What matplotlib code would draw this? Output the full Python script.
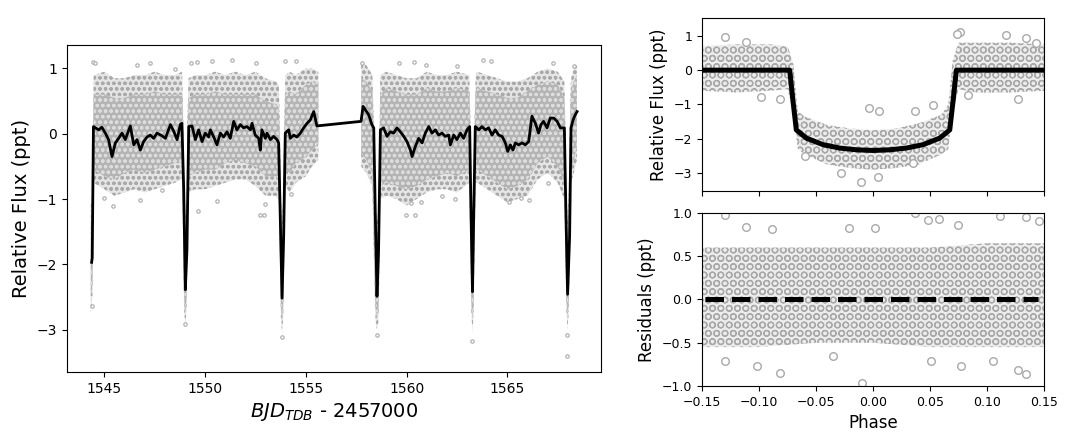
import numpy as np
import matplotlib
matplotlib.use("Agg")
import matplotlib.pyplot as plt

plt.rcParams['hatch.linewidth'] = 0.9

# ---- light curve: detrending model (black line)
trend_t = [1544.37, 1544.40, 1544.46, 1544.72, 1544.88, 1545.05, 1545.21, 1545.38,
           1545.55, 1545.71, 1545.88, 1546.04, 1546.29, 1546.46, 1546.62, 1546.79,
           1546.95, 1547.12, 1547.28, 1547.45, 1547.61, 1547.86, 1548.03, 1548.28,
           1548.44, 1548.61, 1548.77, 1548.85, 1548.94, 1549.02, 1549.10, 1549.19,
           1549.35, 1549.52, 1549.68, 1549.85, 1550.01, 1550.18, 1550.26, 1550.43,
           1550.59, 1550.76, 1550.92, 1551.09, 1551.25, 1551.42, 1551.58, 1551.75,
           1551.91, 1552.08, 1552.25, 1552.33, 1552.49, 1552.66, 1552.74, 1552.82,
           1552.99, 1553.07, 1553.24, 1553.40, 1553.57, 1553.65, 1553.73, 1553.82,
           1553.90, 1553.98, 1554.15, 1554.23, 1554.40, 1554.56, 1554.73, 1554.89,
           1555.06, 1555.22, 1555.39, 1555.55,
           1557.74, 1557.84, 1557.95, 1558.12, 1558.28, 1558.37, 1558.45, 1558.53,
           1558.61, 1558.70, 1558.86, 1559.03, 1559.19, 1559.36, 1559.52, 1559.69,
           1559.86, 1560.02, 1560.19, 1560.27, 1560.43, 1560.60, 1560.77, 1560.93,
           1561.10, 1561.26, 1561.43, 1561.59, 1561.76, 1561.92, 1562.09, 1562.17,
           1562.34, 1562.50, 1562.67, 1562.83, 1563.00, 1563.13, 1563.20, 1563.27,
           1563.33, 1563.41, 1563.58, 1563.74, 1563.91, 1564.07, 1564.24, 1564.40,
           1564.57, 1564.74, 1564.90, 1565.02, 1565.15, 1565.28, 1565.40, 1565.56,
           1565.73, 1565.89, 1566.06, 1566.22, 1566.39, 1566.55, 1566.67, 1566.80,
           1566.97, 1567.13, 1567.30, 1567.47, 1567.63, 1567.83, 1567.91, 1567.99,
           1568.09, 1568.16, 1568.26, 1568.37, 1568.46]
trend_f = [-1.97, -1.90, 0.11, 0.06, 0.10, 0.01, -0.09, -0.35,
           -0.14, -0.07, 0.01, -0.09, 0.12, -0.17, -0.09, -0.25,
           -0.12, -0.05, -0.02, -0.07, 0.01, -0.03, -0.07, 0.14,
           0.04, -0.09, 0.14, 0.16, -0.86, -2.39, -1.78, 0.11,
           0.12, -0.09, 0.06, -0.12, 0.01, -0.05, 0.06, -0.05,
           -0.17, 0.01, -0.05, 0.03, -0.07, 0.19, 0.06, 0.14,
           0.09, 0.11, 0.06, 0.16, -0.02, -0.07, -0.25, 0.06,
           -0.07, 0.01, -0.09, -0.04, -0.09, -0.14, -1.27, -2.52,
           -1.57, 0.01, 0.06, -0.07, -0.02, -0.05, 0.01, 0.09,
           0.16, 0.21, 0.34, 0.12,
           0.19, 0.42, 0.37, 0.29, 0.14, 0.09, -1.27, -2.49,
           -1.78, 0.06, 0.09, -0.04, 0.03, 0.01, 0.09, 0.03,
           -0.04, -0.12, -0.25, -0.35, -0.20, -0.07, -0.14, 0.01,
           0.11, 0.01, 0.06, -0.02, 0.01, -0.04, -0.02, -0.17,
           -0.02, -0.09, 0.01, -0.07, 0.06, 0.11, -1.27, -2.42,
           -1.27, 0.11, 0.06, 0.11, 0.06, 0.09, -0.02, 0.06,
           -0.02, -0.04, -0.14, -0.27, -0.17, -0.25, -0.14, -0.17,
           -0.14, -0.17, -0.12, 0.27, 0.16, 0.01, 0.14, 0.19,
           0.09, 0.24, 0.24, 0.19, 0.09, 0.09, -1.27, -2.46,
           -1.57, 0.09, 0.21, 0.29, 0.34]

# ---- light curve: extent of the cloud of data points, first orbit
orb1_t = [1544.33, 1544.41, 1544.47, 1545.0, 1545.5, 1546.0, 1546.5, 1547.0, 1547.5,
          1548.0, 1548.5, 1548.86, 1548.92, 1548.96, 1549.02, 1549.08, 1549.12, 1549.18,
          1549.5, 1550.0, 1550.5, 1551.0, 1551.5, 1552.0, 1552.5, 1553.0, 1553.5,
          1553.66, 1553.72, 1553.76, 1553.82, 1553.88, 1553.92, 1553.98, 1554.2, 1554.5,
          1555.0, 1555.3, 1555.62]
orb1_hi = [-1.1, -0.9, 0.9, 0.95, 0.85, 0.85, 0.9, 0.9, 0.95,
           0.9, 0.9, 0.95, 0.2, -1.0, -1.2, -1.0, 0.2, 0.85,
           0.9, 0.9, 0.95, 0.9, 0.95, 0.9, 0.95, 0.85, 0.8,
           0.75, 0.0, -1.0, -1.3, -1.0, 0.0, 0.9, 0.95, 0.9,
           1.0, 1.0, 0.95]
orb1_lo = [-2.75, -2.5, -0.75, -0.85, -0.95, -0.9, -0.85, -0.9, -0.85,
           -0.8, -0.75, -0.7, -1.8, -2.7, -2.95, -2.7, -1.8, -0.9,
           -0.85, -0.85, -0.8, -0.75, -0.7, -0.7, -0.8, -0.95, -0.95,
           -1.0, -2.0, -2.8, -3.05, -2.8, -2.0, -0.8, -0.9, -0.75,
           -0.65, -0.5, -0.4]
core1_hi = [-1.4, -1.2, 0.6, 0.6, 0.55, 0.55, 0.6, 0.6, 0.65,
            0.6, 0.6, 0.6, 0.0, -1.3, -1.5, -1.3, 0.0, 0.55,
            0.6, 0.6, 0.65, 0.6, 0.6, 0.6, 0.6, 0.5, 0.45,
            0.4, -0.3, -1.3, -1.6, -1.3, -0.2, 0.6, 0.65, 0.6,
            0.75, 0.8, 0.75]
core1_lo = [-2.5, -2.3, -0.55, -0.65, -0.7, -0.6, -0.55, -0.6, -0.55,
            -0.5, -0.45, -0.45, -1.6, -2.5, -2.75, -2.5, -1.6, -0.65,
            -0.6, -0.55, -0.55, -0.45, -0.4, -0.45, -0.5, -0.65, -0.65,
            -0.7, -1.8, -2.6, -2.85, -2.6, -1.8, -0.55, -0.6, -0.45,
            -0.35, -0.25, -0.15]

# ---- light curve: extent of the cloud of data points, second orbit
orb2_t = [1557.75, 1558.0, 1558.3, 1558.37, 1558.43, 1558.47, 1558.53, 1558.59, 1558.63,
          1558.69, 1559.0, 1559.5, 1560.0, 1560.5, 1561.0, 1561.5, 1562.0, 1562.5,
          1563.11, 1563.17, 1563.21, 1563.27, 1563.33, 1563.37, 1563.43, 1563.5, 1564.0,
          1564.5, 1565.0, 1565.5, 1566.0, 1566.5, 1567.0, 1567.5, 1567.83, 1567.89,
          1567.93, 1567.99, 1568.05, 1568.09, 1568.15, 1568.2, 1568.3, 1568.45]
orb2_hi = [1.1, 1.05, 0.9, 0.2, -1.0, -1.2, -1.3, -1.2, -1.0,
           0.9, 0.95, 0.9, 0.85, 0.85, 0.95, 0.9, 0.9, 0.95,
           0.9, 0.2, -1.0, -1.4, -1.0, 0.2, 0.9, 0.95, 0.9,
           0.85, 0.8, 0.8, 0.85, 0.95, 1.0, 0.95, 0.8, 0.0,
           -0.9, -1.3, -0.9, 0.0, 0.8, 0.9, 1.0, 1.05]
orb2_lo = [-0.5, -0.6, -0.8, -1.8, -2.6, -2.9, -3.0, -2.9, -2.6,
           -1.0, -0.95, -1.0, -1.1, -1.0, -0.9, -0.85, -0.85, -0.9,
           -0.75, -1.8, -2.7, -3.05, -2.7, -1.8, -0.75, -0.75, -0.85,
           -0.95, -1.05, -1.0, -0.95, -0.7, -0.6, -0.75, -1.0, -2.0,
           -2.7, -3.0, -2.7, -2.0, -0.8, -0.7, -0.6, -0.4]
core2_hi = [0.85, 0.8, 0.65, 0.0, -1.3, -1.5, -1.6, -1.5, -1.3,
            0.6, 0.7, 0.65, 0.6, 0.6, 0.7, 0.65, 0.65, 0.7,
            0.65, 0.0, -1.3, -1.7, -1.3, 0.0, 0.65, 0.7, 0.65,
            0.6, 0.55, 0.55, 0.65, 0.75, 0.8, 0.75, 0.55, -0.3,
            -1.3, -1.6, -1.3, -0.3, 0.55, 0.7, 0.8, 0.9]
core2_lo = [-0.3, -0.4, -0.6, -1.6, -2.4, -2.7, -2.8, -2.7, -2.4,
            -0.8, -0.75, -0.8, -0.85, -0.8, -0.7, -0.65, -0.6, -0.65,
            -0.55, -1.6, -2.5, -2.85, -2.5, -1.6, -0.55, -0.55, -0.65,
            -0.75, -0.85, -0.8, -0.7, -0.45, -0.35, -0.5, -0.75, -1.8,
            -2.5, -2.8, -2.5, -1.8, -0.55, -0.5, -0.4, -0.2]

# ---- light curve: isolated points outside the cloud
out_t = [1544.44, 1544.55, 1546.62, 1547.28, 1548.52, 1549.30, 1549.60, 1550.34,
         1551.34, 1552.54, 1553.95, 1554.53, 1545.43, 1544.97, 1546.79, 1547.86,
         1549.63, 1550.59, 1552.71, 1552.91, 1552.96, 1554.26, 1544.39, 1549.02,
         1553.82, 1558.53, 1563.25, 1567.96, 1567.98, 1557.79, 1559.61, 1560.38,
         1560.98, 1562.50, 1563.79, 1564.21, 1567.27, 1568.33, 1559.95, 1560.43,
         1560.22, 1560.72, 1561.76, 1562.42, 1565.07, 1565.68, 1566.09, 1567.00]
out_f = [1.10, 1.09, 1.06, 1.08, 0.99, 1.08, 1.10, 1.11,
         1.13, 1.09, 1.12, 1.11, -1.11, -0.99, -1.01, -0.86,
         -1.18, -1.03, -1.25, -1.25, -1.07, -0.93, -2.64, -2.92,
         -3.11, -3.08, -3.18, -3.41, -3.09, 1.08, 1.09, 1.10,
         1.06, 1.04, 1.13, 1.12, 1.09, 1.04, -1.25, -1.25,
         -1.06, -1.05, -0.96, -1.00, -1.04, -0.98, -1.02, -0.76]

# ---- phase folded transit model
model_ph = [-0.150, -0.0731, -0.0702, -0.0673, -0.0585, -0.0439, -0.0292, -0.0146, 0.0,
            0.0146, 0.0292, 0.0439, 0.0585, 0.0673, 0.0702, 0.0731, 0.150]
model_f = [0.0, 0.0, -0.90, -1.74, -1.98, -2.17, -2.27, -2.32, -2.34,
           -2.32, -2.27, -2.17, -1.98, -1.74, -0.90, 0.0, 0.0]

fold_ph = [-0.15, -0.12, -0.09, -0.075, -0.07, -0.066, -0.06, -0.04, -0.02, 0.0,
           0.02, 0.04, 0.06, 0.066, 0.07, 0.075, 0.09, 0.12, 0.15]
fold_hi = [0.7, 0.75, 0.75, 0.7, 0.2, -1.2, -1.35, -1.6, -1.7, -1.75,
           -1.7, -1.55, -1.3, -1.0, 0.3, 0.8, 0.8, 0.8, 0.75]
fold_lo = [-0.6, -0.65, -0.6, -0.55, -1.2, -2.3, -2.45, -2.75, -2.85, -2.9,
           -2.85, -2.75, -2.45, -2.3, -1.2, -0.55, -0.65, -0.65, -0.6]
fold_out_ph = [-0.130, -0.111, -0.0985, -0.0819, -0.0038, 0.0050, 0.0366, 0.0526,
               -0.0102, 0.0044, -0.0278, 0.076, 0.0737, 0.117, 0.1345, 0.143,
               0.127, 0.083, -0.060, 0.035]
fold_out_f = [0.98, 0.82, -0.77, -0.84, -1.09, -1.20, -1.20, -1.01,
              -3.27, -3.10, -3.00, 1.11, 1.05, 1.03, 0.95, 0.79,
              -0.83, -0.72, -2.51, -2.71]

# ---- residuals
res_ph = [-0.15, -0.10, -0.05, 0.0, 0.05, 0.10, 0.15]
res_hi = [0.6, 0.6, 0.6, 0.6, 0.6, 0.65, 0.65]
res_lo = [-0.55, -0.55, -0.5, -0.5, -0.55, -0.55, -0.55]
res_out_ph = [-0.130, -0.111, -0.089, -0.021, 0.0015, 0.0366, 0.048, 0.058, 0.0746,
              0.111, 0.1345, 0.146, -0.082, -0.010, 0.127, 0.1345, 0.0775, -0.130,
              -0.102, -0.035, 0.051, 0.105]
res_out_f = [0.98, 0.84, 0.81, 0.83, 0.83, 1.0, 0.92, 0.93, 0.86,
             0.97, 0.95, 0.91, -0.85, -0.96, -0.82, -0.86, -0.77, -0.71,
             -0.77, -0.65, -0.71, -0.71]

pt_col = 'darkgray'

fig = plt.figure(figsize=(10.71, 4.42), dpi=100)
ax = fig.add_axes([0.0626, 0.1584, 0.4986, 0.7398])
ax_top = fig.add_axes([0.6555, 0.5679, 0.3193, 0.3914])
ax_bot = fig.add_axes([0.6555, 0.1267, 0.3193, 0.3914])

# left: full light curve, sparse outer cloud then dense core
for bt, bh, bl in [(orb1_t, orb1_hi, orb1_lo), (orb2_t, orb2_hi, orb2_lo)]:
    ax.fill_between(bt, bl, bh, facecolor='#e4e4e4', edgecolor=pt_col,
                    hatch='ooo', linewidth=0)
for bt, bh, bl in [(orb1_t, core1_hi, core1_lo), (orb2_t, core2_hi, core2_lo)]:
    ax.fill_between(bt, bl, bh, facecolor='#b4b4b4', edgecolor='#dcdcdc',
                    hatch='ooo', linewidth=0)
ax.scatter(out_t, out_f, s=6, facecolors='white', edgecolors=pt_col, linewidths=0.8)
ax.plot(trend_t, trend_f, color='black', lw=2.0)
ax.set_xlim(1543.15, 1569.65)
ax.set_ylim(-3.65, 1.36)
ax.set_xticks([1545, 1550, 1555, 1560, 1565])
ax.set_yticks([-3, -2, -1, 0, 1])
ax.tick_params(labelsize=10)
ax.set_xlabel('$BJD_{TDB}$ - 2457000', fontsize=14)
ax.set_ylabel('Relative Flux (ppt)', fontsize=14)

# right top: phase folded transit
ax_top.fill_between(fold_ph, fold_lo, fold_hi, facecolor='#ececec', edgecolor=pt_col,
                    hatch='OO', linewidth=0)
ax_top.scatter(fold_out_ph, fold_out_f, s=30, facecolors='white', edgecolors=pt_col,
               linewidths=1)
ax_top.plot(model_ph, model_f, color='black', lw=3.6)
ax_top.set_xlim(-0.15, 0.15)
ax_top.set_ylim(-3.52, 1.52)
ax_top.set_yticks([-3, -2, -1, 0, 1])
ax_top.set_xticks([-0.15, -0.10, -0.05, 0.0, 0.05, 0.10, 0.15])
ax_top.set_xticklabels([])
ax_top.tick_params(labelsize=9)
ax_top.set_ylabel('Relative Flux (ppt)', fontsize=12)

# right bottom: residuals
ax_bot.fill_between(res_ph, res_lo, res_hi, facecolor='#ececec', edgecolor=pt_col,
                    hatch='OO', linewidth=0)
ax_bot.scatter(res_out_ph, res_out_f, s=30, facecolors='white', edgecolors=pt_col,
               linewidths=1)
ax_bot.plot([-0.147, 0.145], [0, 0], color='black', lw=3.6, ls='--')
ax_bot.set_xlim(-0.15, 0.15)
ax_bot.set_ylim(-1.0, 1.0)
ax_bot.set_yticks([-1.0, -0.5, 0.0, 0.5, 1.0])
ax_bot.set_xticks([-0.15, -0.10, -0.05, 0.0, 0.05, 0.10, 0.15])
ax_bot.tick_params(labelsize=9)
ax_bot.set_xlabel('Phase', fontsize=12)
ax_bot.set_ylabel('Residuals (ppt)', fontsize=12)

fig.savefig('out.png', dpi=100)
